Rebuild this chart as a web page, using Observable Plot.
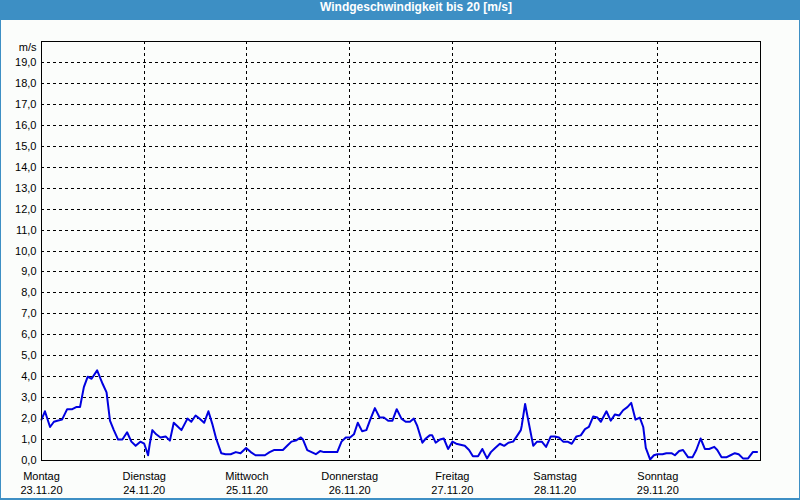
<!DOCTYPE html>
<html>
<head>
<meta charset="utf-8">
<script src="https://cdn.jsdelivr.net/npm/d3@7"></script>
<script src="https://cdn.jsdelivr.net/npm/@observablehq/plot@0.6"></script>
<style>
  html, body { margin: 0; padding: 0; background: #fbfdfb; }
  #wrap { position: relative; width: 800px; height: 500px; overflow: hidden; background: #fbfdfb; }
  #title { height: 20px; line-height: 21px; background: #3d8fc4; color: #fff; font: bold 12px "Liberation Sans", Arial, sans-serif; text-align: center; padding-left: 32px; box-sizing: border-box; }
  #frame { position: absolute; left: 0; top: 0; width: 800px; height: 500px; box-sizing: border-box; border: 1px solid #3d8fc4; border-bottom-width: 2px; border-top: none; pointer-events: none; }
  #chart svg { display: block; }
</style>
</head>
<body>
<div id="wrap">
  <div id="title">Windgeschwindigkeit bis 20 [m/s]</div>
  <div id="chart"></div>
  <div id="frame"></div>
</div>
<script>
// hours since Monday 23.11.20 00:00
const hours = [0.0,0.8,2.0,2.9,3.7,4.8,6.0,7.2,8.1,9.0,9.9,10.8,11.7,13.0,14.3,15.2,16.0,16.9,17.9,18.9,20.0,21.0,22.0,23.1,24.0,24.5,24.9,25.3,25.9,26.8,27.8,29.0,30.0,30.9,31.7,32.7,34.1,35.0,36.0,36.9,38.0,39.0,39.9,40.8,42.0,43.0,44.2,45.4,46.5,47.8,48.9,50.0,51.2,52.2,53.3,54.3,55.9,56.4,57.4,58.4,59.4,60.6,61.1,62.1,63.1,64.1,65.1,66.0,67.2,69.1,70.1,71.1,72.1,73.0,73.9,74.9,75.9,76.9,77.9,79.0,80.0,81.0,82.0,83.0,84.1,85.1,86.1,87.0,87.8,89.0,89.8,90.7,91.3,92.1,93.1,94.0,95.0,96.0,96.9,97.9,98.9,99.9,100.8,102.0,103.0,104.1,105.0,106.0,107.1,108.1,109.1,110.2,111.2,112.0,112.2,113.0,113.9,114.9,115.8,116.9,117.9,119.0,119.9,120.9,121.9,122.9,123.9,125.0,126.0,127.0,127.9,128.9,129.9,130.7,132.0,133.0,134.0,135.0,135.9,136.9,137.8,138.8,139.8,140.6,141.2,142.2,143.1,143.9,145.1,146.0,147.2,148.0,149.0,149.9,151.1,152.1,153.0,154.0,155.0,156.0,157.2,157.9,158.9,160.0,161.0,162.0,162.9,163.9,165.1,166.2,167.2];
const speed = [1.95,2.35,1.6,1.85,1.9,1.95,2.45,2.45,2.55,2.55,3.5,4.0,3.9,4.3,3.65,3.25,1.9,1.45,1.0,1.0,1.35,0.9,0.7,0.9,0.8,0.5,0.25,0.8,1.45,1.25,1.1,1.15,0.95,1.8,1.65,1.45,2.0,1.85,2.15,2.0,1.8,2.35,1.75,1.05,0.35,0.3,0.3,0.4,0.35,0.6,0.4,0.25,0.25,0.25,0.4,0.5,0.5,0.5,0.7,0.9,0.95,1.1,1.0,0.5,0.4,0.3,0.45,0.4,0.4,0.4,0.9,1.1,1.1,1.25,1.8,1.4,1.45,2.0,2.5,2.05,2.05,1.9,1.9,2.45,2.0,1.85,1.85,2.0,1.65,0.85,1.05,1.2,1.2,0.85,1.0,1.05,0.55,0.9,0.8,0.75,0.7,0.5,0.2,0.2,0.55,0.1,0.4,0.6,0.8,0.7,0.85,0.9,1.2,1.45,1.65,2.7,1.75,0.7,0.9,0.9,0.65,1.15,1.15,1.1,0.9,0.9,0.8,1.15,1.2,1.5,1.6,2.1,2.05,1.85,2.35,1.9,2.2,2.15,2.4,2.55,2.75,1.95,2.05,1.6,0.6,0.05,0.25,0.3,0.3,0.35,0.35,0.25,0.45,0.5,0.15,0.15,0.5,1.05,0.55,0.55,0.65,0.5,0.15,0.15,0.25,0.35,0.3,0.1,0.1,0.4,0.4];

const dayStarts = [0, 24, 48, 72, 96, 120, 144];
const dayNames = ["Montag", "Dienstag", "Mittwoch", "Donnerstag", "Freitag", "Samstag", "Sonntag"];
const dayDates = ["23.11.20", "24.11.20", "25.11.20", "26.11.20", "27.11.20", "28.11.20", "29.11.20"];
const yTicks = d3.range(0, 20);
const yUnit = "m/s";

const series = hours.map((h, i) => ({h, v: speed[i]}));
const days = dayStarts.map((h, i) => ({h, name: dayNames[i], date: dayDates[i]}));

const font = '"Liberation Sans", Arial, sans-serif';
const chart = Plot.plot({
  width: 800,
  height: 480,
  marginLeft: 41,
  marginRight: 40,
  marginTop: 21,
  marginBottom: 40,
  style: {background: "transparent", fontFamily: font, fontSize: "11px", color: "#000"},
  x: {domain: [0, 168], axis: null},
  y: {domain: [0, 20], axis: null},
  marks: [
    Plot.ruleY(yTicks.filter(d => d > 0), {stroke: "#000", strokeDasharray: "3,3", strokeWidth: 1, shapeRendering: "crispEdges"}),
    Plot.ruleX(dayStarts.filter(d => d > 0), {stroke: "#000", strokeDasharray: "3,3", strokeWidth: 1, shapeRendering: "crispEdges"}),
    Plot.axisY(yTicks, {tickSize: 0, tickPadding: 5, tickFormat: d => d.toFixed(1).replace(".", ","), fontSize: 11, label: null}),
    Plot.text([yUnit], {frameAnchor: "top-left", text: d => d, textAnchor: "end", lineAnchor: "middle", dx: -5, dy: 6, fontSize: 11}),
    Plot.text(days, {x: "h", y: 0, text: "name", dy: 15.5, lineAnchor: "middle", fontSize: 11}),
    Plot.text(days, {x: "h", y: 0, text: "date", dy: 29.5, lineAnchor: "middle", fontSize: 11}),
    Plot.line(series, {x: "h", y: "v", stroke: "#0000e0", strokeWidth: 2, curve: "linear"}),
    Plot.frame({stroke: "#000", strokeWidth: 1, shapeRendering: "crispEdges"})
  ]
});
document.getElementById("chart").appendChild(chart);
</script>
</body>
</html>
